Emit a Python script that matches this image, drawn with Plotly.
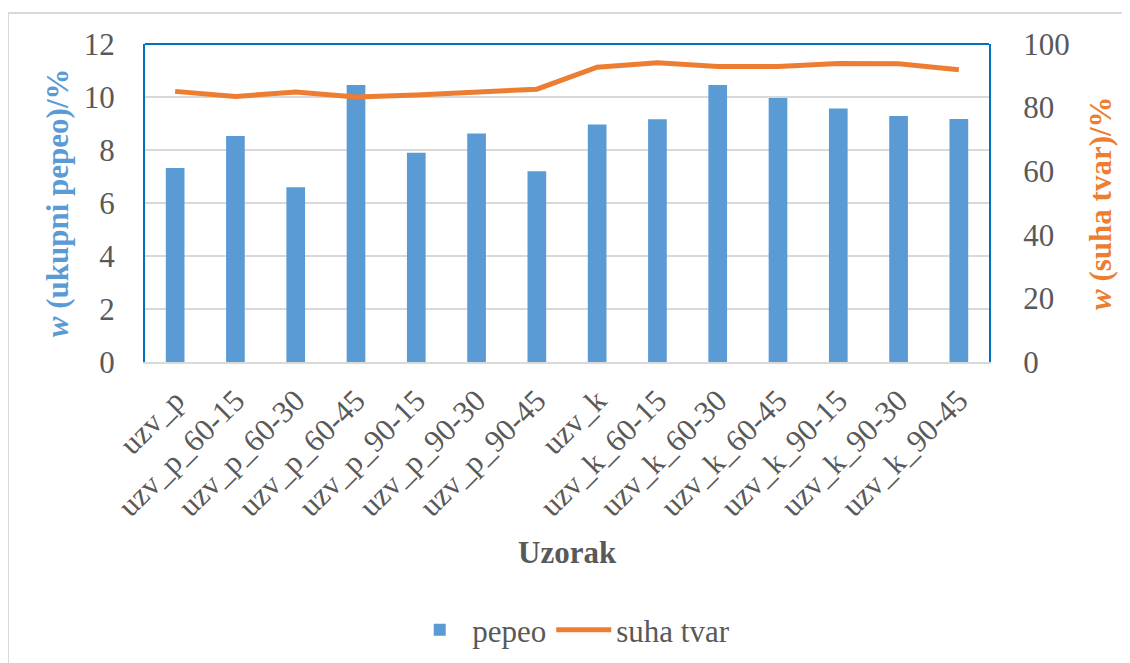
import plotly.graph_objects as go

categories = ["uzv_p", "uzv_p_60-15", "uzv_p_60-30", "uzv_p_60-45", "uzv_p_90-15",
              "uzv_p_90-30", "uzv_p_90-45", "uzv_k", "uzv_k_60-15", "uzv_k_60-30",
              "uzv_k_60-45", "uzv_k_90-15", "uzv_k_90-30", "uzv_k_90-45"]
pepeo = [7.32, 8.53, 6.59, 10.45, 7.90, 8.62, 7.20, 8.96, 9.16, 10.45, 9.96, 9.57, 9.28, 9.17]
suha_tvar = [85.1, 83.5, 84.9, 83.3, 84.0, 84.8, 85.8, 92.7, 94.1, 92.9, 92.9, 93.9, 93.8, 91.9]

BLUE = "#5B9BD5"
ORANGE = "#ED7D31"
AXBLUE = "#0070C0"
GRID = "#D9D9D9"
TXT = "#595959"
FONT = "Liberation Serif"
FS = 31

fig = go.Figure()
fig.add_trace(go.Bar(x=categories, y=pepeo, name="pepeo", marker=dict(color=BLUE, line=dict(width=0)),
                     yaxis="y"))
fig.add_trace(go.Scatter(x=categories, y=suha_tvar, name="suha tvar", mode="lines",
                         line=dict(color=ORANGE, width=5), yaxis="y2"))

fig.update_layout(
    width=1130, height=663,
    margin=dict(l=137, r=149, t=36, b=309, autoexpand=False),
    paper_bgcolor="white", plot_bgcolor="white",
    font=dict(family=FONT, size=FS, color=TXT),
    bargap=0.69,
    showlegend=True,
    legend=dict(orientation="h", x=0.505, xanchor="center", y=-0.843, yanchor="middle",
                font=dict(size=FS, color=TXT), itemwidth=55, traceorder="normal"),
    xaxis=dict(tickangle=-45, tickfont=dict(size=FS, color=TXT), showgrid=False,
               showline=True, linecolor=GRID, linewidth=2, ticks="", ticklabelstandoff=6),
    yaxis=dict(range=[0, 12], dtick=2, showgrid=True, gridcolor=GRID, gridwidth=2,
               showline=True, linecolor=AXBLUE, linewidth=2, zeroline=False,
               tickfont=dict(size=FS, color=TXT), ticklabelstandoff=22),
    yaxis2=dict(range=[0, 100], dtick=20, overlaying="y", side="right", showgrid=False,
                showline=True, linecolor=AXBLUE, linewidth=2, zeroline=False,
                tickfont=dict(size=FS, color=TXT), ticklabelstandoff=26),
    shapes=[
        dict(type="line", xref="paper", yref="paper", x0=0, x1=1, y0=1, y1=1,
             line=dict(color=AXBLUE, width=2)),
        dict(type="rect", xref="paper", yref="paper", x0=-0.1623, x1=1.2, y0=1.0975, y1=-1.2,
             line=dict(color=GRID, width=2), layer="below"),
    ],
    annotations=[
        dict(text="<b><i>w</i> (ukupni pepeo)/%</b>", xref="paper", yref="paper",
             x=-0.104, y=0.5, textangle=-90, showarrow=False,
             font=dict(size=FS, color=BLUE, family=FONT), xanchor="center", yanchor="middle"),
        dict(text="<b><i>w</i> (suha tvar)/%</b>", xref="paper", yref="paper",
             x=1.1315, y=0.5, textangle=-90, showarrow=False,
             font=dict(size=FS, color=ORANGE, family=FONT), xanchor="center", yanchor="middle"),
        dict(text="<b>Uzorak</b>", xref="paper", yref="paper", x=0.5, y=-0.60,
             showarrow=False, font=dict(size=FS, color=TXT, family=FONT),
             xanchor="center", yanchor="middle"),
    ],
)

fig.write_html("out.html")
